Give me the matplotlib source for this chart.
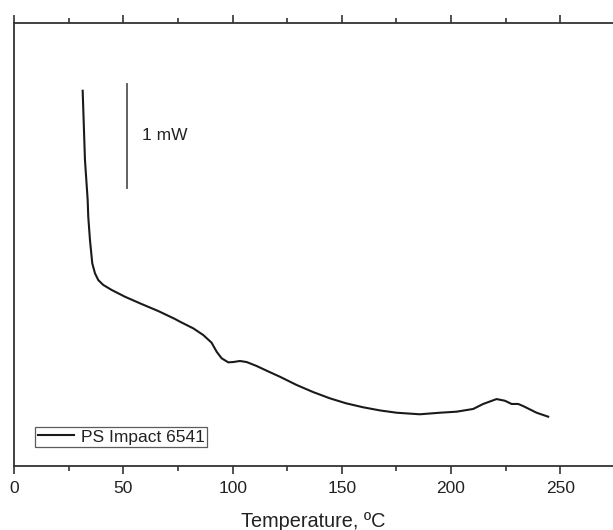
import matplotlib
matplotlib.use('Agg')
import matplotlib.pyplot as plt
import matplotlib.ticker as mtick

plt.rcParams['font.family'] = ['Liberation Sans', 'DejaVu Sans']

# DSC trace (heat flow in mW, arbitrary offset)
temperature = [31.32, 32.37, 33.61, 33.88, 34.66, 35.71, 36.95, 38.46, 40.75, 44.60,
               50.69, 58.33, 65.93, 73.58, 75.87, 81.96, 86.54, 90.38, 92.67, 94.96,
               97.99, 100.27, 103.34, 106.41, 110.99, 115.57, 121.66, 129.30, 137.0,
               144.55, 152.0, 159.80, 167.5, 175.09, 185.76, 194.92, 202.56, 210.16,
               214.74, 220.88, 224.68, 227.75, 230.77, 233.06, 239.19, 244.51]
heat_flow = [3.595, 2.931, 2.548, 2.387, 2.164, 1.941, 1.845, 1.780, 1.733, 1.685,
             1.620, 1.550, 1.483, 1.407, 1.381, 1.317, 1.253, 1.179, 1.093, 1.030,
             0.991, 0.994, 1.004, 0.994, 0.956, 0.911, 0.853, 0.774, 0.705,
             0.646, 0.598, 0.560, 0.530, 0.508, 0.493, 0.508, 0.518, 0.544,
             0.592, 0.639, 0.623, 0.592, 0.592, 0.572, 0.508, 0.470]

bar_x = 51.5
bar_y = [2.66, 3.66]
bar_label = '1 mW'
series_name = 'PS Impact 6541'

fig = plt.figure(figsize=(6.13, 5.30), dpi=100)
ax = fig.add_axes([0.0233, 0.1213, 0.9767, 0.8358])

ax.plot(temperature, heat_flow, '-', color='#1a1a1a', lw=1.5,
        solid_joinstyle='round', label=series_name)
ax.plot([bar_x, bar_x], bar_y, '-', color='#555555', lw=1.3)
ax.text(58.3, 3.164, bar_label, fontsize=12.5, color='#222222', va='center', ha='left')

ax.set_xlim(0, 274.2)
ax.set_ylim(0, 4.247)

ax.xaxis.set_major_locator(mtick.MultipleLocator(50))
ax.xaxis.set_minor_locator(mtick.MultipleLocator(25))
ax.set_yticks([])
ax.tick_params(axis='x', which='both', direction='out', top=True, bottom=True,
               color='#333333', labelsize=12.5, labelcolor='#222222', pad=5)
ax.tick_params(axis='x', which='major', length=6, width=1.2)
ax.tick_params(axis='x', which='minor', length=3.8, width=1.2)

for side in ['left', 'top', 'bottom']:
    ax.spines[side].set_color('#333333')
    ax.spines[side].set_linewidth(1.3)
ax.spines['right'].set_visible(False)

ax.set_xlabel('Temperature, ºC', fontsize=14.3, color='#222222', labelpad=11.5)

leg = ax.legend(loc='lower left', bbox_to_anchor=(0.0346, 0.042), borderaxespad=0,
                fontsize=12.5, frameon=True, fancybox=False, handlelength=2.1,
                handletextpad=0.4, borderpad=0.15)
leg.get_frame().set_edgecolor('#333333')
leg.get_frame().set_linewidth(0.9)
for t in leg.get_texts():
    t.set_color('#222222')

fig.savefig('out.png', dpi=100)
